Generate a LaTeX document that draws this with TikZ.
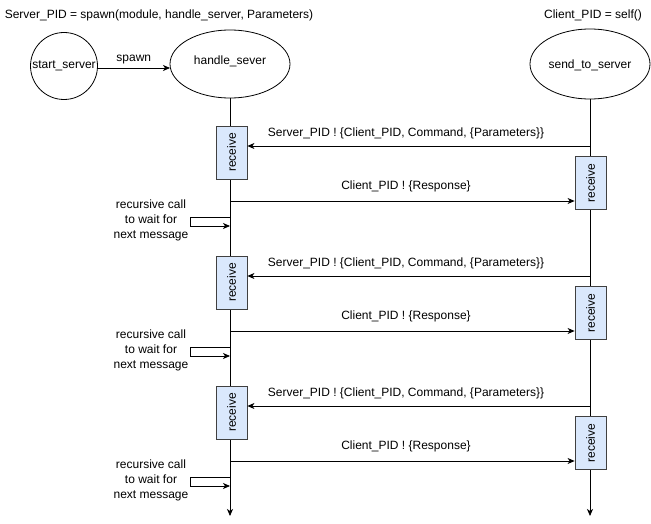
\documentclass[tikz,border=0pt]{standalone}
\usepackage{fontspec}
\setmainfont{Liberation Sans}
\usetikzlibrary{arrows.meta}
\definecolor{boxfill}{HTML}{DAE8FC}
\definecolor{boxline}{HTML}{404040}
\begin{document}
\begin{tikzpicture}[x=1pt,y=-1pt,
  font=\fontsize{12}{14}\selectfont,
  every node/.style={inner sep=0pt},
  arr/.style={-{Stealth[length=7pt,width=6pt,inset=2pt]}, line width=0.8pt},
  ln/.style={line width=0.8pt},
  recv/.style={draw=boxline, fill=boxfill, line width=0.8pt, minimum width=31pt, minimum height=53pt},
  lbl/.style={text=black}
]
\useasboundingbox (0,0) rectangle (651,524);
% titles
\node (t1) at (159,15) {Server\_PID = spawn(module, handle\_server, Parameters)};
\node (t2) at (593,15) {Client\_PID = self()};
% processes
\draw[ln] (64,66) circle (33.5);
\node (ss) at (64,66) {start\_server};
\coordinate (ssr) at (97.5,68);
\draw[ln] (230,64) ellipse (60 and 34);
\node (hs) at (230,61) {handle\_sever};
\coordinate (hsl) at (170,68);
\coordinate (hsb) at (230,98);
\draw[ln] (590,64) ellipse (60 and 35);
\node (sts) at (590,65) {send\_to\_server};
\coordinate (stsb) at (590,99);
% spawn
\draw[arr] (ssr) -- node[above=4pt] {spawn} (hsl);
% lifelines
\coordinate (hend) at (230,516);
\coordinate (cend) at (590,516);
\draw[arr] (hsb) -- (hend);
\draw[arr] (stsb) -- (cend);
% repeated groups
\foreach \i/\off in {1/0,2/130,3/260}{
  \node[recv] (sr\i) at (231.5,152.5+\off) {};
  \node[rotate=90] at (sr\i) {receive};
  \node[recv] (cr\i) at (590.5,183+\off) {};
  \node[rotate=90] at (cr\i) {receive};
  \coordinate (reqs\i) at (590,146+\off);
  \coordinate (resps\i) at (230,201+\off);
  \draw[arr] (reqs\i) -- (sr\i.east |- reqs\i);
  \node (reql\i) at (406,133+\off) {Server\_PID ! \{Client\_PID, Command, \{Parameters\}\}};
  \draw[arr] (resps\i) -- (cr\i.west |- resps\i);
  \node (respl\i) at (406,186+\off) {Client\_PID ! \{Response\}};
  \coordinate (la\i) at (230,217+\off);
  \coordinate (lb\i) at (230,226+\off);
  \draw[arr] (la\i) -- (190,217+\off) -- (190,226+\off) -- (lb\i);
  \node[align=center, font=\fontsize{12}{15}\selectfont] (rc\i) at (151,220+\off) {recursive call\\to wait for\\next message};
}
\end{tikzpicture}
\end{document}
